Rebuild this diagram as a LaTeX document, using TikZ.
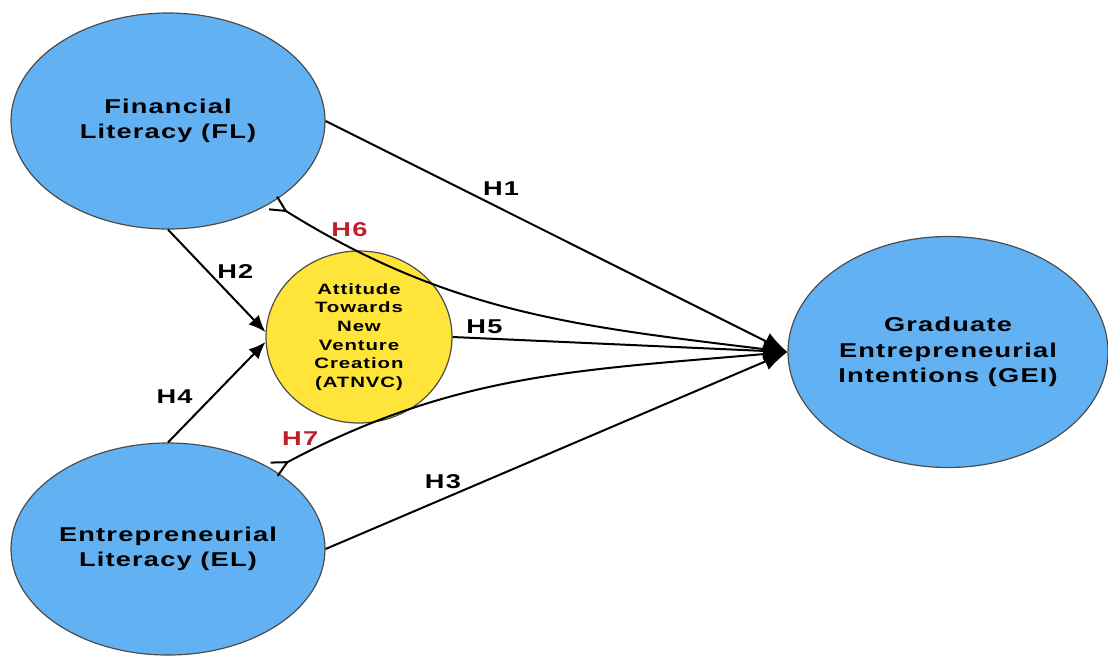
\documentclass[tikz,border=0pt]{standalone}
\usepackage{fontspec}
\setmainfont[FakeStretch=1.36, LetterSpace=6]{Liberation Sans}
\usetikzlibrary{positioning,shapes.geometric,arrows.meta}
\definecolor{constructblue}{RGB}{98,178,243}
\definecolor{mediatoryellow}{RGB}{255,229,58}
\definecolor{hypred}{RGB}{190,32,42}

\begin{document}
\begin{tikzpicture}[x=1pt, y=-1pt]
                \tikzset{construct/.style={draw=black!70, line width=1.2pt, shape=ellipse, fill=constructblue, inner sep=0pt, align=center, font=\fontsize{20}{25.5}\selectfont\bfseries},
                         mediator/.style={construct, fill=mediatoryellow, font=\fontsize{15}{18.6}\selectfont\bfseries},
                         hyp/.style={font=\fontsize{20}{22}\selectfont\bfseries},
                         indirect/.style={hyp, text=hypred}}
                \useasboundingbox (0,0) rectangle (1108,657);
                \node[construct, minimum width=314pt, minimum height=216pt] (FL) at (168,121) {Financial\\Literacy (FL)};
                \node[construct, minimum width=314pt, minimum height=212pt] (EL) at (168,549) {Entrepreneurial\\Literacy (EL)};
                \node[construct, minimum width=320pt, minimum height=231pt] (GEI) at (948,352) {Graduate\\Entrepreneurial\\Intentions (GEI)};
                \node[mediator, minimum width=186pt, minimum height=172pt] (ATNVC) at (359,337) {Attitude\\Towards\\New\\Venture\\Creation\\(ATNVC)};
                \path[-{Latex[length=17pt, width=14pt]}, line width=2pt]
                    (FL.south) edge node [hyp, pos=0.41, right=5pt] {H2} (ATNVC.177)
                    (EL.north) edge node [hyp, pos=0.46, left=16pt] {H4} (ATNVC.183);
                \path[-{Latex[length=24pt, width=18pt]}, line width=2pt]
                    (FL.east) edge node [hyp, pos=0.38, above=9pt] {H1} (GEI.west)
                    (ATNVC.east) edge node [hyp, pos=0.095, above] {H5} (GEI.west)
                    (EL.east) edge node [hyp, pos=0.254, above=6pt] {H3} (GEI.west);
                \path[{Straight Barb[reversed, length=15pt, width=15pt]}-{Latex[length=24pt, width=18pt]}, line width=2pt]
                    (FL.-38) edge [out=-32, in=173] node [indirect, pos=0.15, above=5pt] {H6} (GEI.west)
                    (EL.37) edge [out=28, in=185] node [indirect, pos=0.05, above=6pt] {H7} (GEI.west);
            \end{tikzpicture}
\end{document}
